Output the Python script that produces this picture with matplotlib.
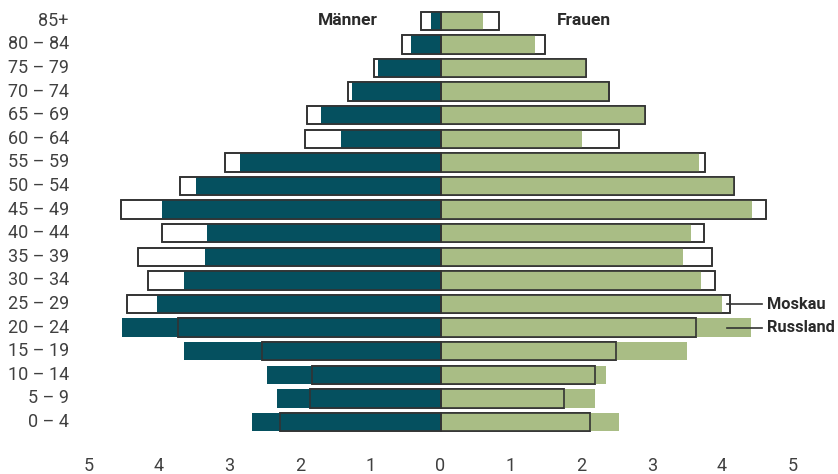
import matplotlib
matplotlib.use("Agg")
import matplotlib.pyplot as plt
from matplotlib import font_manager

# ---------------- data ----------------
age_groups = ["0 – 4", "5 – 9", "10 – 14", "15 – 19", "20 – 24", "25 – 29", "30 – 34",
              "35 – 39", "40 – 44", "45 – 49", "50 – 54", "55 – 59", "60 – 64",
              "65 – 69", "70 – 74", "75 – 79", "80 – 84", "85+"]
# percent of population, Russia (filled)
russland_maenner = [2.68, 2.32, 2.46, 3.64, 4.52, 4.03, 3.64, 3.35, 3.31, 3.96,
                    3.47, 2.85, 1.41, 1.70, 1.26, 0.89, 0.42, 0.135]
russland_frauen = [2.54, 2.20, 2.35, 3.50, 4.41, 4.00, 3.70, 3.44, 3.56, 4.42,
                   4.17, 3.67, 2.01, 2.90, 2.38, 2.06, 1.34, 0.60]
# percent of population, Moscow (outline)
moskau_maenner = [2.28, 1.86, 1.83, 2.53, 3.73, 4.46, 4.16, 4.30, 3.96, 4.54,
                  3.70, 3.06, 1.92, 1.90, 1.32, 0.94, 0.54, 0.28]
moskau_frauen = [2.13, 1.76, 2.19, 2.49, 3.63, 4.11, 3.90, 3.86, 3.74, 4.63,
                 4.17, 3.76, 2.54, 2.91, 2.39, 2.06, 1.49, 0.835]
tick_values = [-5, -4, -3, -2, -1, 0, 1, 2, 3, 4, 5]
tick_labels = ["5", "4", "3", "2", "1", "0", "1", "2", "3", "4", "5"]

# ---------------- style ----------------
available = {f.name for f in font_manager.fontManager.ttflist}
base_font = "Roboto" if "Roboto" in available else "DejaVu Sans"
plt.rcParams["font.family"] = [base_font, "DejaVu Sans"]

DARK = "#05505f"
GREEN = "#a9bd85"
EDGE = "#333333"
TEXT = "#404040"
BOLD = "#2a2a2a"

fig = plt.figure(figsize=(8.38, 4.74), dpi=100)
ax = fig.add_axes([0, 0, 1, 1])
ax.set_xlim(-6.257, 5.646)
ax.set_ylim(-2.20, 17.88)
ax.axis("off")

y = list(range(len(age_groups)))
h = 0.78
neg_mm = [-v for v in moskau_maenner]
neg_rm = [-v for v in russland_maenner]

# Moskau background (white fill with outline)
ax.barh(y, neg_mm, height=h, color="white", edgecolor=EDGE, linewidth=1.2, zorder=1)
ax.barh(y, moskau_frauen, height=h, color="white", edgecolor=EDGE, linewidth=1.2, zorder=1)
# Russland filled
ax.barh(y, neg_rm, height=h, color=DARK, linewidth=0, zorder=2)
ax.barh(y, russland_frauen, height=h, color=GREEN, linewidth=0, zorder=2)
# Moskau outline on top
ax.barh(y, neg_mm, height=h, color="none", edgecolor=EDGE, linewidth=1.2, zorder=3)
ax.barh(y, moskau_frauen, height=h, color="none", edgecolor=EDGE, linewidth=1.2, zorder=3)

# category labels
for yi, lab in zip(y, age_groups):
    ax.text(-5.28, yi, lab, ha="right", va="center", fontsize=13, color=TEXT)

# x tick labels
for xv, lab in zip(tick_values, tick_labels):
    ax.text(xv, -1.86, lab, ha="center", va="center", fontsize=13, color=TEXT)

# headers
top = len(age_groups) - 1
ax.text(-1.31, top, "Männer", ha="center", va="center", fontsize=12.5,
        fontweight="bold", color=BOLD)
ax.text(2.04, top, "Frauen", ha="center", va="center", fontsize=12.5,
        fontweight="bold", color=BOLD)

# legend leaders
ax.plot([4.07, 4.57], [5, 5], color=EDGE, linewidth=1.2, zorder=4)
ax.plot([4.07, 4.57], [4, 4], color=EDGE, linewidth=1.2, zorder=4)
ax.text(4.64, 5, "Moskau", ha="left", va="center", fontsize=11.8,
        fontweight="bold", color=BOLD)
ax.text(4.64, 4, "Russland", ha="left", va="center", fontsize=11.8,
        fontweight="bold", color=BOLD)

fig.savefig("out.png", dpi=100)
